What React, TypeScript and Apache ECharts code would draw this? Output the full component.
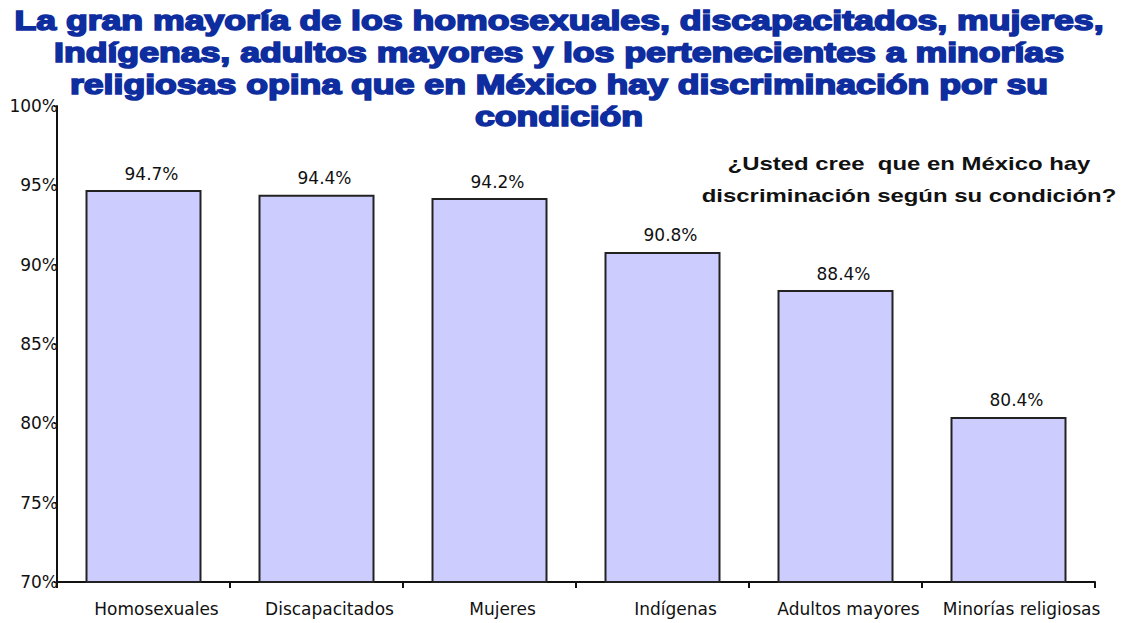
import React, { useEffect, useRef } from "react";
import * as echarts from "echarts";

const categories = [
  "Homosexuales",
  "Discapacitados",
  "Mujeres",
  "Indígenas",
  "Adultos mayores",
  "Minorías religiosas",
];
const values = [94.7, 94.4, 94.2, 90.8, 88.4, 80.4];
const yTicks = [70, 75, 80, 85, 90, 95, 100];
const titleText =
  "La gran mayoría de los homosexuales, discapacitados, mujeres,\nIndígenas, adultos mayores y los pertenecientes a minorías\nreligiosas opina que en México hay discriminación por su\ncondición";
const subtitleText = "¿Usted cree  que en México hay\ndiscriminación según su condición?";

export default function App() {
  const ref = useRef<HTMLDivElement>(null);
  useEffect(() => {
    if (!ref.current) return;
    const chart = echarts.init(ref.current, null, { renderer: "svg" });
    chart.setOption({
      animation: false,
      backgroundColor: "#ffffff",
      graphic: [
        {
          type: "text",
          x: 559,
          y: 69,
          scaleX: 1.32,
          z: 10,
          style: {
            text: titleText,
            textAlign: "center",
            textVerticalAlign: "middle",
            fontFamily: "Liberation Sans",
            fontWeight: "bold",
            fontSize: 27,
            lineHeight: 32,
            fill: "#0E2D9E",
            stroke: "#0E2D9E",
            lineWidth: 1.6,
          },
        },
        {
          type: "text",
          x: 909,
          y: 180,
          scaleX: 1.33,
          z: 10,
          style: {
            text: subtitleText,
            textAlign: "center",
            textVerticalAlign: "middle",
            fontFamily: "Liberation Sans",
            fontWeight: "bold",
            fontSize: 18,
            lineHeight: 32,
            fill: "#111111",
          },
        },
      ],
      grid: { left: 57, right: 26, top: 106, bottom: 41, containLabel: false },
      xAxis: {
        type: "category",
        data: categories,
        axisLine: { lineStyle: { color: "#111111", width: 2 } },
        axisTick: { show: true, alignWithLabel: false, length: 6, lineStyle: { color: "#111111", width: 2 } },
        axisLabel: {
          fontFamily: "DejaVu Sans",
          fontSize: 17,
          color: "#111111",
          margin: 18,
          interval: 0,
          padding: [0, 0, 0, 26],
        },
      },
      yAxis: {
        type: "value",
        min: yTicks[0],
        max: yTicks[yTicks.length - 1],
        interval: 5,
        splitLine: { show: false },
        axisLine: { show: true, lineStyle: { color: "#111111", width: 2 } },
        axisTick: { show: true, length: 3, lineStyle: { color: "#111111" } },
        axisLabel: {
          fontFamily: "DejaVu Sans",
          fontSize: 17,
          color: "#111111",
          margin: -1,
          formatter: (v: number) => `${v}%`,
        },
      },
      series: [
        {
          type: "bar",
          data: values,
          barWidth: 116,
          itemStyle: { color: "#CCCCFF", borderColor: "#222222", borderWidth: 2 },
          label: {
            show: true,
            position: "top",
            distance: 8,
            offset: [8, 0],
            fontFamily: "DejaVu Sans",
            fontSize: 17,
            color: "#111111",
            formatter: (p: any) => `${p.value.toFixed(1)}%`,
          },
        },
      ],
    });
    return () => chart.dispose();
  }, []);
  return <div ref={ref} style={{ width: 1121, height: 623, position: "absolute", left: 0, top: 0 }} />;
}
